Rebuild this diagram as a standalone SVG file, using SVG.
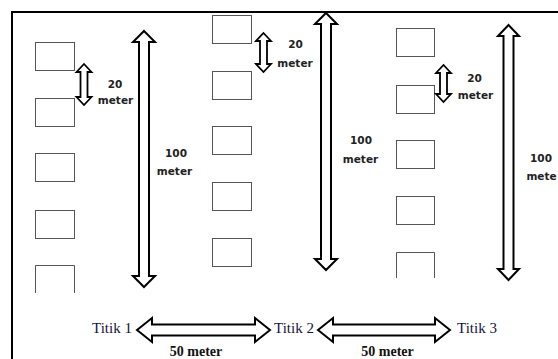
<svg xmlns="http://www.w3.org/2000/svg" width="558" height="359" viewBox="0 0 558 359">
<style>
.frame{fill:none;stroke:#000;stroke-width:2}
.lot{fill:#fff;stroke:#555;stroke-width:1}
.arr{fill:#fff;stroke:#000;stroke-width:2;stroke-linejoin:miter}
.sarr{fill:#fff;stroke:#000;stroke-width:1.8}
.lbl{font-family:"DejaVu Sans",sans-serif;font-size:10.5px;font-weight:bold;fill:#222;text-anchor:middle}
.pt{font-family:"Liberation Serif",serif;font-size:15px;fill:#14143a}
.dist{font-family:"Liberation Serif",serif;font-size:14px;font-weight:bold;fill:#111;text-anchor:middle}
</style>
<rect width="558" height="359" fill="#fff"/>
<path class="frame" d="M12,359 V12 H558"/>

<g id="column1">
<rect class="lot" x="35.5" y="42.5" width="39" height="28"/>
<rect class="lot" x="35.5" y="98.5" width="39" height="28"/>
<rect class="lot" x="35.5" y="153.5" width="39" height="28"/>
<rect class="lot" x="35.5" y="210.5" width="39" height="28"/>
<path class="lot" fill="none" d="M35.5,293 V265.5 H74.5 V293"/>
</g>
<g id="column2">
<rect class="lot" x="212.5" y="15.5" width="39" height="28"/>
<rect class="lot" x="212.5" y="71.5" width="39" height="28"/>
<rect class="lot" x="212.5" y="126.5" width="39" height="28"/>
<rect class="lot" x="212.5" y="182.5" width="39" height="28"/>
<rect class="lot" x="212.5" y="238.5" width="39" height="28"/>
</g>
<g id="column3">
<rect class="lot" x="396.5" y="28.5" width="38" height="28"/>
<rect class="lot" x="396.5" y="85.5" width="38" height="28"/>
<rect class="lot" x="396.5" y="140.5" width="38" height="28"/>
<rect class="lot" x="396.5" y="196.5" width="38" height="28"/>
<path class="lot" fill="none" d="M396.5,278 V252.5 H434.5 V278"/>
</g>

<g id="connectors">
<!-- small vertical double arrows: half-width 7.5, shaft half 3.5, head 8 -->
<path class="sarr" d="M84,64 L91.5,72 L87.5,72 L87.5,97 L91.5,97 L84,105 L76.5,97 L80.5,97 L80.5,72 L76.5,72 Z"/>
<path class="sarr" d="M263.5,33 L271,41 L267,41 L267,64 L271,64 L263.5,72 L256,64 L260,64 L260,41 L256,41 Z"/>
<path class="sarr" d="M443.5,65 L451,73 L447,73 L447,94 L451,94 L443.5,102 L436,94 L440,94 L440,73 L436,73 Z"/>
<!-- big vertical double arrows -->
<path class="arr" d="M144,31 L155,42 L149,42 L149,276 L155,276 L144,287 L133,276 L139,276 L139,42 L133,42 Z"/>
<path class="arr" d="M326,13 L337,24 L331,24 L331,259 L337,259 L326,270 L315,259 L321,259 L321,24 L315,24 Z"/>
<path class="arr" d="M508.5,25 L519,36 L513.5,36 L513.5,269 L519,269 L508.5,280 L498,269 L503.5,269 L503.5,36 L498,36 Z"/>
<!-- horizontal double arrows -->
<path class="arr" d="M137,330 L152,318 L152,324.5 L255,324.5 L255,318 L270,330 L255,342 L255,335.5 L152,335.5 L152,342 Z"/>
<path class="arr" d="M318,330 L333,318 L333,324.5 L435,324.5 L435,318 L450,330 L435,342 L435,335.5 L333,335.5 L333,342 Z"/>
</g>

<g id="labels">
<text class="lbl" x="115" y="88">20</text>
<text class="lbl" x="115.5" y="104">meter</text>
<text class="lbl" x="176" y="157">100</text>
<text class="lbl" x="174.5" y="175">meter</text>
<text class="lbl" x="295.5" y="48">20</text>
<text class="lbl" x="295" y="67">meter</text>
<text class="lbl" x="361" y="144">100</text>
<text class="lbl" x="360.5" y="163">meter</text>
<text class="lbl" x="474.5" y="82">20</text>
<text class="lbl" x="475.5" y="99">meter</text>
<text class="lbl" x="541" y="162">100</text>
<text class="lbl" x="541.5" y="180">mete</text>
</g>

<g id="titik1"><text class="pt" x="92" y="333">Titik 1</text></g>
<g id="titik2"><text class="pt" x="274" y="333">Titik 2</text></g>
<g id="titik3"><text class="pt" x="457" y="333">Titik 3</text></g>
<text class="dist" x="196" y="356">50 meter</text>
<text class="dist" x="387.5" y="356">50 meter</text>
</svg>
